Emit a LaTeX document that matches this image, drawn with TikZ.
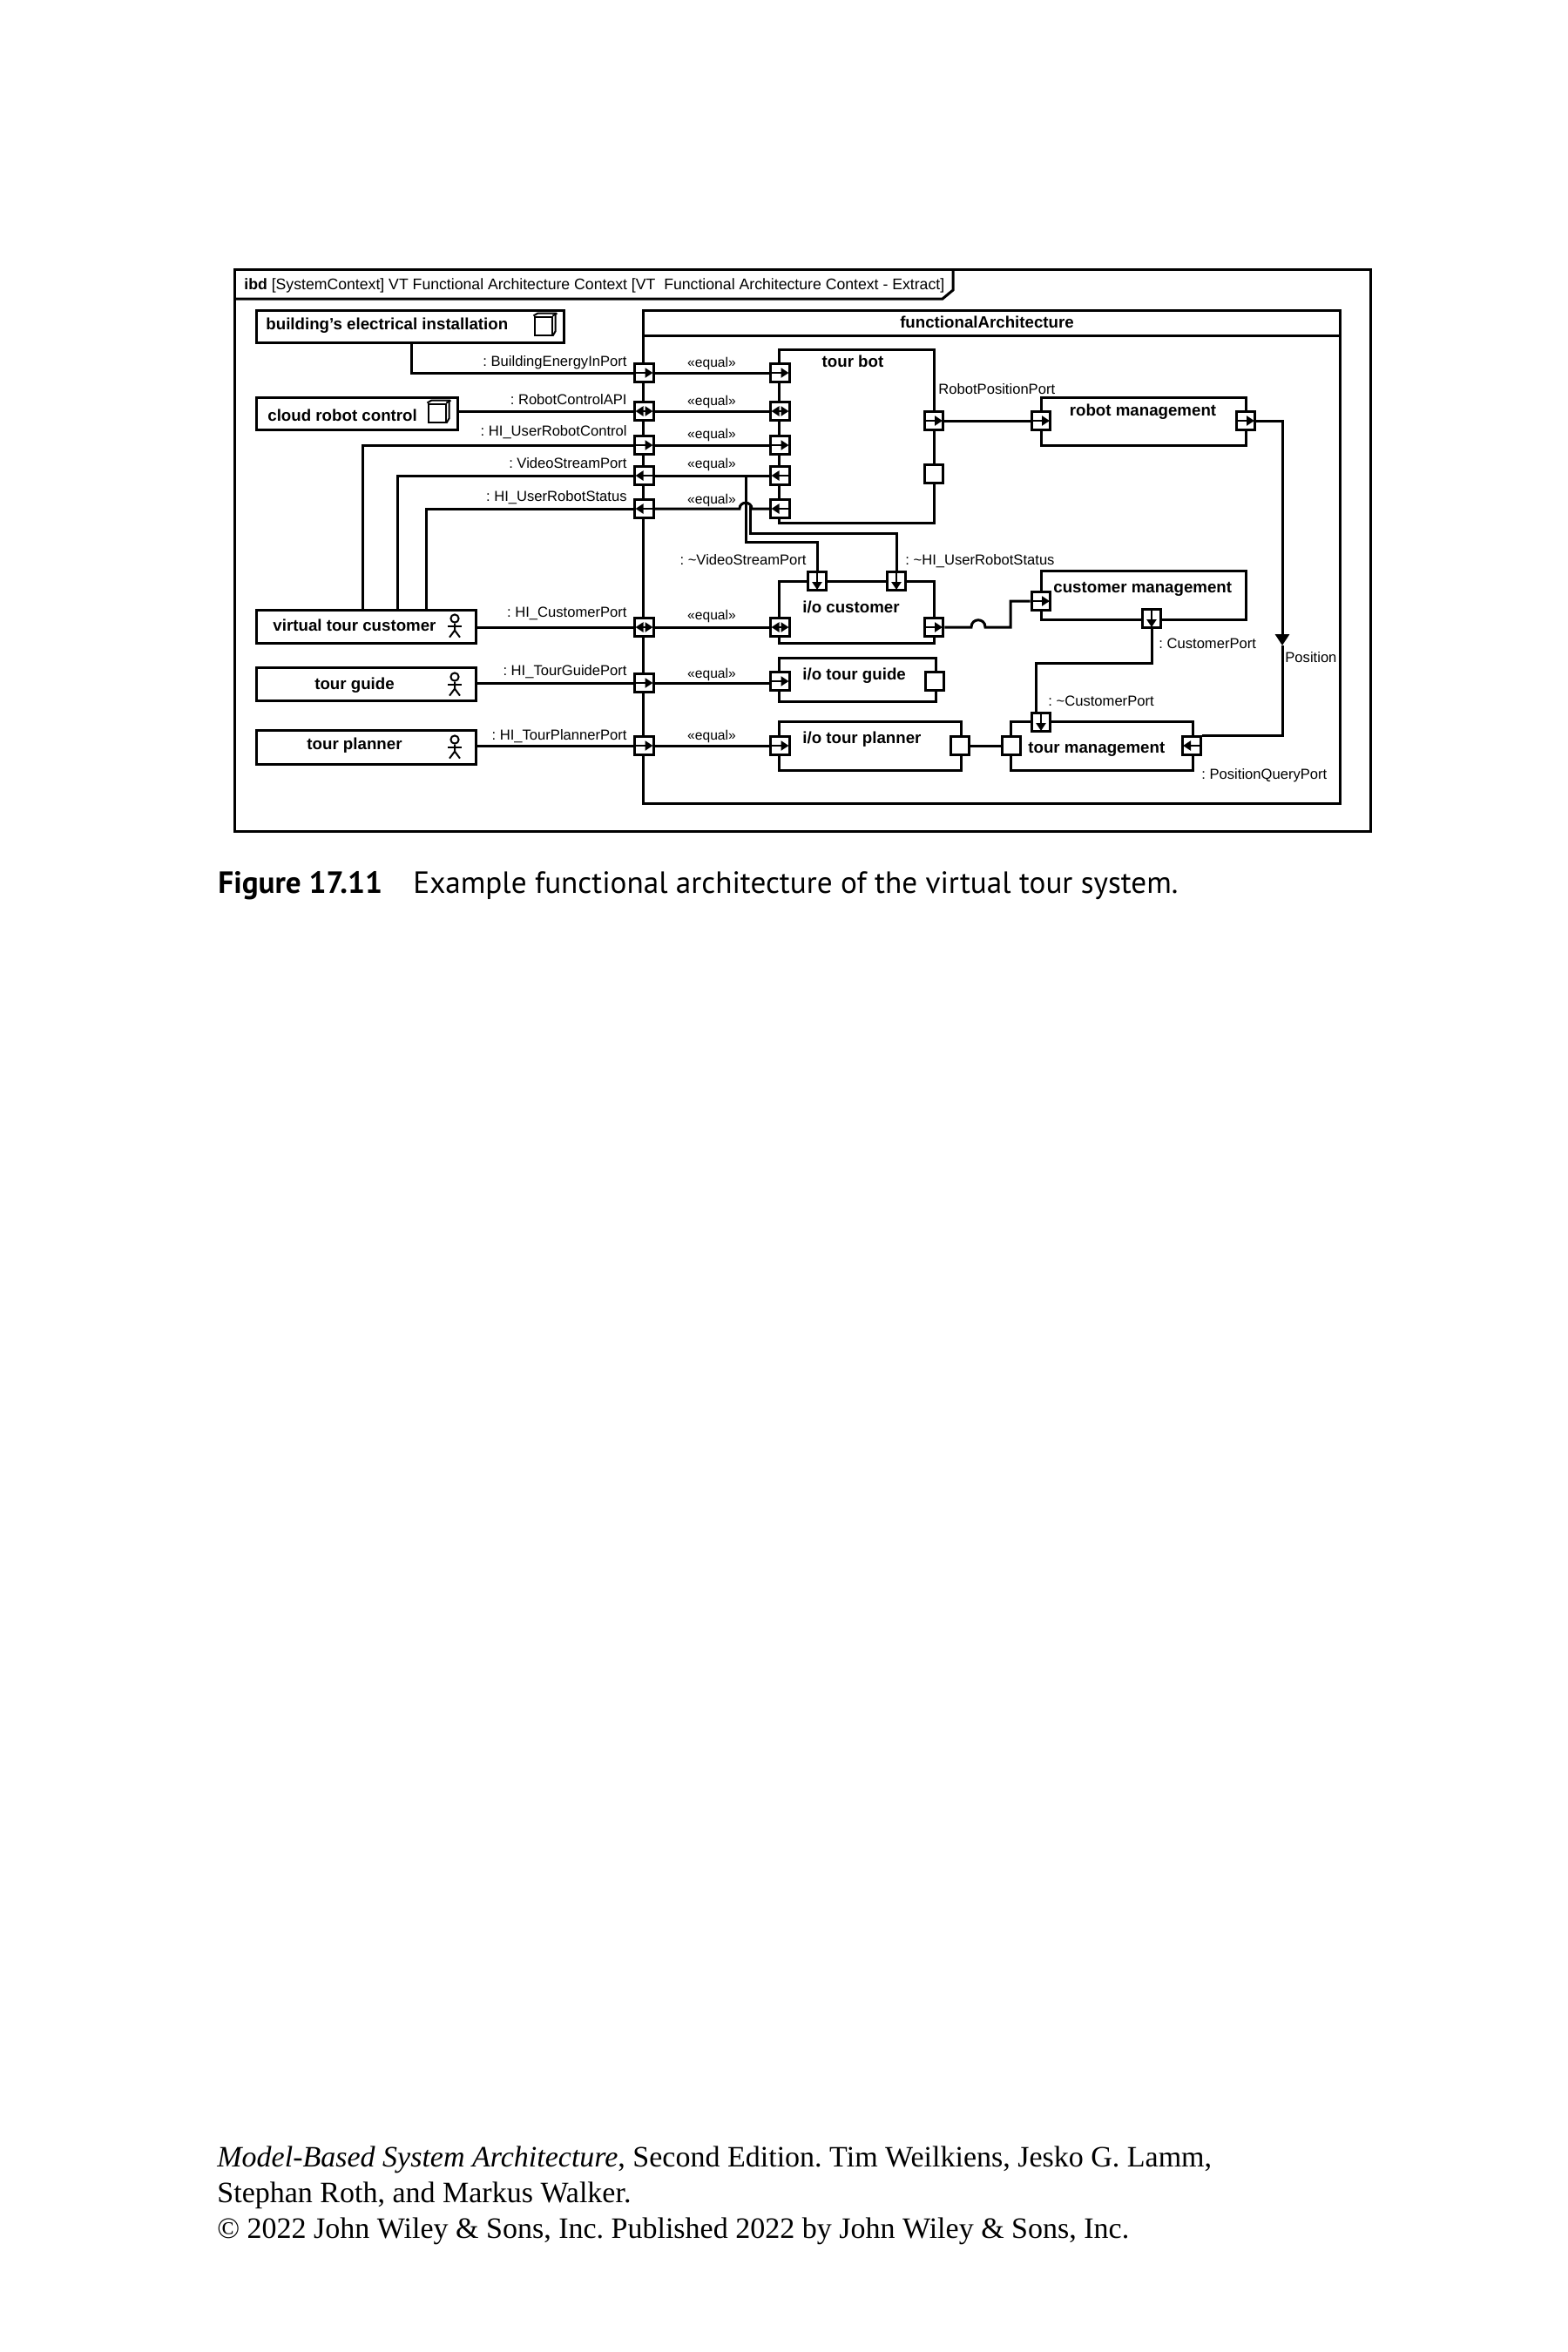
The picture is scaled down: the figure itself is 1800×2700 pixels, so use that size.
\documentclass[tikz,border=0pt]{standalone}
\usepackage{fontspec}
\setmainfont{Liberation Sans}
\newfontfamily\capfont{PT Sans}
\newfontfamily\bookfont{Liberation Serif}
\usetikzlibrary{arrows.meta,calc}
\frenchspacing
\tikzset{
  wire/.style={line width=1.5pt},
  blockbox/.style={draw,line width=1.5pt,inner sep=0pt,outer sep=0pt},
  portbox/.style={draw,fill=white,line width=1.5pt,inner sep=0pt,minimum size=10.9pt},
  portflow/.style={line width=1.3pt},
  iconline/.style={line width=1pt},
  blocklabel/.style={anchor=base,inner sep=0pt,font=\bfseries\fontsize{9.35}{11}\selectfont},
  portlabel/.style={inner sep=0pt,font=\fontsize{8.3}{10}\selectfont},
  equallabel/.style={anchor=base,inner sep=0pt,font=\fontsize{7.8}{10}\selectfont},
}
\newcommand{\umlblock}[5]{%
  \node[blockbox,minimum width={(#4-#2)*.5pt},minimum height={(#5-#3)*.5pt}]
    (#1) at ({(#2+#4)/2},{(#3+#5)/2}) {};
}
\newcommand{\portE}[3]{%
  \node[portbox] (#1) at (#2,#3) {};
  \draw[portflow,-{Triangle[length=4.5pt,width=5.5pt]}] (#1.center) ++(-10,0) -- ++(20,0);
}
\newcommand{\portW}[3]{%
  \node[portbox] (#1) at (#2,#3) {};
  \draw[portflow,-{Triangle[length=4.5pt,width=5.5pt]}] (#1.center) ++(10,0) -- ++(-20,0);
}
\newcommand{\portS}[3]{%
  \node[portbox] (#1) at (#2,#3) {};
  \draw[portflow,-{Triangle[length=4.5pt,width=5.5pt]}] (#1.center) ++(0,-10) -- ++(0,20);
}
\newcommand{\portEW}[3]{%
  \node[portbox] (#1) at (#2,#3) {};
  \draw[portflow,{Triangle[length=4.5pt,width=5.5pt]}-{Triangle[length=4.5pt,width=5.5pt]}]
    (#1.center) ++(-10,0) -- ++(20,0);
}
\newcommand{\blockicon}[3]{%
  \node[draw,iconline,inner sep=0pt,minimum width=10pt,minimum height=10.5pt] (#1) at (#2,#3) {};
  \draw[iconline] (#1.north west) -- ++(5,-3) -- ++(20,0) -- ++(0,21) -- (#1.south east);
  \draw[iconline] (#1.north east) -- ++(5,-3);
}
\newcommand{\stickman}[3]{%
  \node[draw,circle,iconline,inner sep=0pt,minimum size=4.6pt] (#1) at (#2,#3) {};
  \draw[iconline] (#1.south) -- ++(0,8) coordinate (#1hip) -- ++(-6,8);
  \draw[iconline] (#1hip) -- ++(6,8);
  \draw[iconline] (#1hip) ++(-8,-5) -- ++(16,0);
}

\begin{document}
\begin{tikzpicture}[x=.5pt,y=-.5pt]
    \useasboundingbox (0,0) rectangle (1800,2700);
    \umlblock{frame}{269}{309}{1573}{954}
    \draw[wire] (1094,309) -- (1094,333) -- (1082,343) -- (269,343);
    \node[portlabel,anchor=base west,font=\fontsize{8.83}{10}\selectfont] (frametitle) at (280,332)
      {\textbf{ibd} [SystemContext] VT Functional Architecture Context [VT\ \ Functional Architecture Context - Extract]};

    \umlblock{building}{294}{356}{647}{393}
    \umlblock{cloud}{294}{456}{525}{493}
    \umlblock{customer}{294}{700}{546}{738}
    \umlblock{guide}{294}{766}{546}{804}
    \umlblock{planner}{294}{838}{546}{877}
    \umlblock{architecture}{738}{356}{1538}{922}
    \draw[wire] (738,385) -- (1538,385);
    \umlblock{tourbot}{894}{401}{1072}{600}
    \umlblock{robotmgmt}{1195}{456}{1430}{511}
    \umlblock{iocustomer}{894}{667}{1072}{738}
    \umlblock{customermgmt}{1195}{655}{1430}{711}
    \umlblock{ioguide}{894}{755}{1074}{805}
    \umlblock{ioplanner}{894}{828}{1103}{884}
    \umlblock{tourmgmt}{1160}{828}{1369}{884}

    \node[blocklabel,anchor=base west] (buildinglabel) at (305,378) {building’s electrical installation};
    \node[blocklabel,anchor=base west] (cloudlabel) at (307,483) {cloud robot control};
    \node[blocklabel] (customerlabel) at (407,724) {virtual tour customer};
    \node[blocklabel] (guidelabel) at (407,791) {tour guide};
    \node[blocklabel] (plannerlabel) at (407,860) {tour planner};
    \node[blocklabel] (architecturelabel) at (1133,376) {functionalArchitecture};
    \node[blocklabel] (tourbotlabel) at (979,421) {tour bot};
    \node[blocklabel] (robotmgmtlabel) at (1312,477) {robot management};
    \node[blocklabel,anchor=base west] (iocustomerlabel) at (921,703) {i/o customer};
    \node[blocklabel,anchor=base west] (ioguidelabel) at (921,780) {i/o tour guide};
    \node[blocklabel,anchor=base west] (ioplannerlabel) at (921,853) {i/o tour planner};
    \node[blocklabel,anchor=base west] (customermgmtlabel) at (1209,680) {customer management};
    \node[blocklabel,anchor=base west] (tourmgmtlabel) at (1180,864) {tour management};

    \blockicon{buildingicon}{623.5}{374}
    \blockicon{cloudicon}{501.5}{474}
    \stickman{customeractor}{522}{710}
    \stickman{guideactor}{522}{777}
    \stickman{planneractor}{522}{849}

    \portE{energy}{739.5}{428}
    \portEW{control}{739.5}{472}
    \portE{userctrl}{739.5}{511}
    \portW{video}{739.5}{546}
    \portW{status}{739.5}{584}
    \portEW{hicustomer}{739.5}{720}
    \portE{higuide}{739.5}{784}
    \portE{hiplanner}{739.5}{856}

    \portE{botenergy}{895.5}{428}
    \portEW{botcontrol}{895.5}{472}
    \portE{botuserctrl}{895.5}{511}
    \portW{botvideo}{895.5}{546}
    \portW{botstatus}{895.5}{584}
    \portE{botposition}{1072}{483}
    \node[portbox] (botspare) at (1072,544) {};

    \portE{rmin}{1195}{483}
    \portE{rmout}{1430}{483}
    \portS{iocvideo}{938}{667}
    \portS{iocstatus}{1029}{667}
    \portEW{iochuman}{895.5}{720}
    \portE{iocout}{1072}{720}
    \portE{cmin}{1195}{690}
    \portS{cmport}{1322}{710}
    \portE{iogin}{895.5}{782}
    \node[portbox] (iogout) at (1073,782) {};
    \portE{iopin}{895.5}{856}
    \node[portbox] (iopout) at (1102,856) {};
    \node[portbox] (tmin) at (1161,856) {};
    \portS{tmport}{1195}{829}
    \portW{tmposition}{1368}{856}

    \foreach \from/\to in {energy/botenergy,control/botcontrol,userctrl/botuserctrl,
        video/botvideo,hicustomer/iochuman,higuide/iogin,hiplanner/iopin}
      \draw[wire] (\from.east) -- (\from.east -| \to.west);
    \draw[wire] (botposition.east) -- (rmin.west);
    \draw[wire] (iopout.east) -- (tmin.west);

    \draw[wire] (building.south -| 472,0) |- (energy.west);
    \draw[wire] (cloud.east |- control.west) -- (control.west);
    \draw[wire] (customer.north -| 416,0) |- (userctrl.west);
    \draw[wire] (customer.north -| 456,0) |- (video.west);
    \draw[wire] (customer.north -| 489,0) |- (status.west);
    \draw[wire] (customer.east |- hicustomer.west) -- (hicustomer.west);
    \draw[wire] (guide.east |- higuide.west) -- (higuide.west);
    \draw[wire] (planner.east |- hiplanner.west) -- (hiplanner.west);

    \coordinate (videotap) at (856,546);
    \coordinate (statustap) at (861,581);
    \coordinate (jumpA) at (849,584);
    \coordinate (jumpB) at (863,584);
    \draw[wire] (status.east) -- (jumpA) .. controls (849,575) and (863,575) .. (jumpB) -- (botstatus.west);
    \draw[wire] (videotap) -- ++(0,76) -| (iocvideo.north);
    \draw[wire] (statustap) -- ++(0,31) -| (iocstatus.north);

    \coordinate (jumpC) at (1115,720);
    \coordinate (jumpD) at (1131,720);
    \draw[wire] (iocout.east) -- (jumpC) .. controls (1115,709) and (1131,709) .. (jumpD)
      -- ++(29,0) |- (cmin.west);
    \draw[wire] (cmport.south) -- ++(0,39) -| ([xshift=-3pt]tmport.north);

    \coordinate (positionflow) at (1472,741);
    \draw[wire,-{Triangle[length=6.5pt,width=8pt]}] (rmout.east) -| (positionflow);
    \draw[wire] (positionflow) |- ([yshift=6pt]tmposition.east);

    \foreach \yy [count=\n] in {421,465,503,537,578,711,778,849}
      \node[equallabel] (equal\n) at (817,\yy) {«equal»};

    \foreach \nm/\txt/\yy in {energylabel/: BuildingEnergyInPort/420,controllabel/: RobotControlAPI/464,
        userctrllabel/: HI\_UserRobotControl/500,videolabel/: VideoStreamPort/537,
        statuslabel/: HI\_UserRobotStatus/575,hicustomerlabel/: HI\_CustomerPort/708,
        higuidelabel/: HI\_TourGuidePort/775,hiplannerlabel/: HI\_TourPlannerPort/849}
      \node[portlabel,anchor=base east] (\nm) at (720,\yy) {\txt};

    \node[portlabel,anchor=base west] (botpositionlabel) at (1077,452) {RobotPositionPort};
    \node[portlabel,anchor=base east] (iocvideolabel) at (926,648) {: \textasciitilde VideoStreamPort};
    \node[portlabel,anchor=base west] (iocstatuslabel) at (1039,648) {: \textasciitilde HI\_UserRobotStatus};
    \node[portlabel,anchor=base west] (cmportlabel) at (1330,744) {: CustomerPort};
    \node[portlabel,anchor=base west] (positionlabel) at (1475,760) {Position};
    \node[portlabel,anchor=base west] (tmportlabel) at (1203,810) {: \textasciitilde CustomerPort};
    \node[portlabel,anchor=base west] (tmpositionlabel) at (1379,894) {: PositionQueryPort};

    \node[anchor=base west,inner sep=0pt,font=\capfont\fontsize{17.6}{20}\selectfont] (figurelabel) at (250,1025) {\textbf{Figure 17.11}};
    \node[anchor=base west,inner sep=0pt,font=\capfont\fontsize{17.6}{20}\selectfont] (figuretext) at (474,1025) {Example functional architecture of the virtual tour system.};
    \node[anchor=base west,inner sep=0pt,font=\bookfont\fontsize{17}{20}\selectfont] (bookline1) at (249,2487) {\textit{Model-Based System Architecture}, Second Edition. Tim Weilkiens, Jesko G. Lamm,};
    \node[anchor=base west,inner sep=0pt,font=\bookfont\fontsize{17}{20}\selectfont] (bookline2) at (249,2528) {Stephan Roth, and Markus Walker.};
    \node[anchor=base west,inner sep=0pt,font=\bookfont\fontsize{17}{20}\selectfont] (bookline3) at (249,2569) {© 2022 John Wiley \& Sons, Inc. Published 2022 by John Wiley \& Sons, Inc.};
\end{tikzpicture}
\end{document}
